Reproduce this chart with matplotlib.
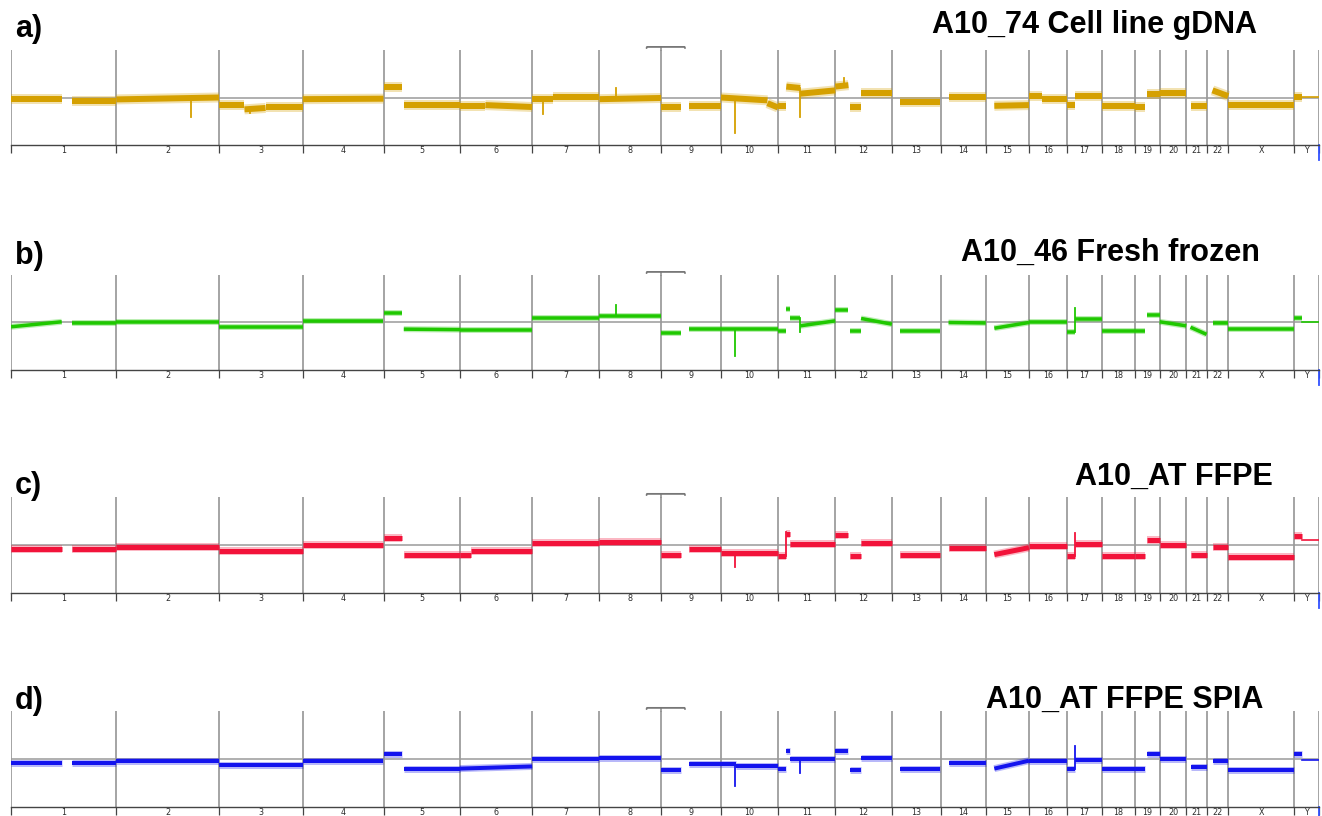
import numpy as np
import matplotlib
matplotlib.use('Agg')
import matplotlib.pyplot as plt

W, H = 1322, 816

# chromosome sizes (Mb, hg19)
chrom_names = ['1', '2', '3', '4', '5', '6', '7', '8', '9', '10', '11', '12',
               '13', '14', '15', '16', '17', '18', '19', '20', '21', '22', 'X', 'Y']
chrom_len = [249.3, 243.2, 198.0, 191.2, 180.9, 171.1, 159.1, 146.4, 141.2, 135.5,
             135.0, 133.9, 115.2, 107.3, 102.5, 90.4, 81.2, 78.1, 59.1, 63.0,
             48.1, 51.3, 155.3, 59.4]

# segments: chrom, start Mb, end Mb, log2 ratio at start, at end
seg_a = [
    ('1', 0, 120, -0.035, -0.035), ('1', 144, 249, -0.07, -0.07),
    ('2', 0, 243, -0.04, 0.0),
    ('3', 0, 60, -0.16, -0.16), ('3', 60, 110, -0.25, -0.22), ('3', 110, 198, -0.19, -0.19),
    ('4', 0, 191, -0.035, -0.025),
    ('5', 0, 44, 0.22, 0.22), ('5', 48, 181, -0.16, -0.16),
    ('6', 0, 60, -0.175, -0.175), ('6', 60, 171, -0.16, -0.2),
    ('7', 0, 50, -0.035, -0.035), ('7', 50, 159, 0.01, 0.01),
    ('8', 0, 146, -0.035, -0.01),
    ('9', 0, 47, -0.19, -0.19), ('9', 66, 141, -0.175, -0.175),
    ('10', 0, 110, 0.0, -0.06), ('10', 110, 135, -0.12, -0.21),
    ('11', 0, 19, -0.175, -0.175), ('11', 19, 52, 0.23, 0.2), ('11', 52, 135, 0.08, 0.15),
    ('12', 0, 31, 0.23, 0.26), ('12', 35, 61, -0.21, -0.21), ('12', 61, 134, 0.085, 0.085),
    ('13', 19, 115, -0.105, -0.105),
    ('14', 19, 107, 0.015, 0.015),
    ('15', 20, 102, -0.175, -0.16),
    ('16', 0, 30, 0.035, 0.035), ('16', 30, 90, -0.035, -0.035),
    ('17', 0, 17, -0.16, -0.16), ('17', 17, 81, 0.035, 0.035),
    ('18', 0, 78, -0.175, -0.175),
    ('19', 0, 25, -0.21, -0.21), ('19', 28, 59, 0.07, 0.07),
    ('20', 0, 63, 0.085, 0.085),
    ('21', 10, 48, -0.175, -0.175),
    ('22', 14, 51, 0.15, 0.03),
    ('X', 0, 155, -0.16, -0.16),
    ('Y', 0, 19, 0.015, 0.015),
]
spikes_a = [('2', 177, -0.40), ('3', 73, -0.32), ('7', 26, -0.35), ('8', 38, 0.2),
            ('10', 33, -0.75), ('11', 52, -0.40), ('12', 21, 0.42)]
flat_y_a = 0.015

seg_b = [
    ('1', 0, 120, -0.09, 0.015), ('1', 144, 249, -0.02, -0.02),
    ('2', 0, 243, 0.0, 0.0),
    ('3', 0, 198, -0.09, -0.09),
    ('4', 0, 191, 0.035, 0.035),
    ('5', 0, 44, 0.21, 0.21), ('5', 48, 181, -0.14, -0.15),
    ('6', 0, 171, -0.15, -0.15),
    ('7', 0, 159, 0.1, 0.1),
    ('8', 0, 146, 0.13, 0.13),
    ('9', 0, 47, -0.22, -0.22), ('9', 66, 141, -0.14, -0.14),
    ('10', 0, 135, -0.13, -0.13),
    ('11', 0, 19, -0.175, -0.175), ('11', 19, 28, 0.28, 0.28), ('11', 28, 52, 0.085, 0.085),
    ('11', 52, 135, -0.07, 0.035),
    ('12', 0, 31, 0.27, 0.27), ('12', 35, 61, -0.175, -0.175), ('12', 61, 134, 0.085, -0.035),
    ('13', 19, 115, -0.175, -0.175),
    ('14', 19, 107, 0.0, -0.01),
    ('15', 20, 102, -0.12, 0.0),
    ('16', 0, 90, 0.015, 0.015),
    ('17', 0, 17, -0.21, -0.21), ('17', 17, 81, 0.07, 0.07),
    ('18', 0, 78, -0.175, -0.175),
    ('19', 0, 25, -0.175, -0.175), ('19', 28, 59, 0.155, 0.155),
    ('20', 0, 63, 0.015, -0.07),
    ('21', 10, 48, -0.1, -0.25),
    ('22', 14, 51, -0.02, -0.02),
    ('X', 0, 155, -0.14, -0.14),
    ('Y', 0, 19, 0.105, 0.105),
]
spikes_b = [('8', 38, 0.37), ('10', 33, -0.70), ('11', 52, -0.2), ('17', 17, 0.3)]
flat_y_b = 0.015

seg_c = [
    ('1', 0, 120, -0.09, -0.09), ('1', 144, 249, -0.08, -0.08),
    ('2', 0, 243, -0.035, -0.035),
    ('3', 0, 198, -0.125, -0.125),
    ('4', 0, 191, -0.007, -0.007),
    ('5', 0, 44, 0.155, 0.155), ('5', 48, 181, -0.21, -0.21),
    ('6', 0, 25, -0.2, -0.2), ('6', 25, 171, -0.125, -0.125),
    ('7', 0, 159, 0.05, 0.05),
    ('8', 0, 146, 0.065, 0.065),
    ('9', 0, 47, -0.21, -0.21), ('9', 66, 141, -0.09, -0.09),
    ('10', 0, 135, -0.16, -0.16),
    ('11', 0, 19, -0.23, -0.23), ('11', 19, 28, 0.22, 0.22), ('11', 28, 135, 0.015, 0.015),
    ('12', 0, 31, 0.2, 0.2), ('12', 35, 61, -0.23, -0.23), ('12', 61, 134, 0.05, 0.05),
    ('13', 19, 115, -0.21, -0.21),
    ('14', 19, 107, -0.055, -0.055),
    ('15', 20, 102, -0.2, -0.055),
    ('16', 0, 90, -0.02, -0.02),
    ('17', 0, 17, -0.23, -0.23), ('17', 17, 81, 0.015, 0.015),
    ('18', 0, 78, -0.23, -0.23),
    ('19', 0, 25, -0.23, -0.23), ('19', 28, 59, 0.105, 0.105),
    ('20', 0, 63, -0.007, -0.007),
    ('21', 10, 48, -0.21, -0.21),
    ('22', 14, 51, -0.04, -0.04),
    ('X', 0, 155, -0.245, -0.245),
    ('Y', 0, 19, 0.19, 0.19),
]
spikes_c = [('10', 33, -0.45), ('11', 19, 0.28), ('17', 17, 0.25)]
flat_y_c = 0.105

seg_d = [
    ('1', 0, 120, -0.085, -0.085), ('1', 144, 249, -0.085, -0.085),
    ('2', 0, 243, -0.035, -0.035),
    ('3', 0, 198, -0.125, -0.125),
    ('4', 0, 191, -0.035, -0.035),
    ('5', 0, 44, 0.105, 0.105), ('5', 48, 181, -0.2, -0.2),
    ('6', 0, 171, -0.2, -0.155),
    ('7', 0, 159, 0.0, 0.0),
    ('8', 0, 146, 0.02, 0.02),
    ('9', 0, 47, -0.225, -0.225), ('9', 66, 141, -0.105, -0.105),
    ('10', 0, 35, -0.1, -0.1), ('10', 35, 135, -0.155, -0.155),
    ('11', 0, 19, -0.21, -0.21), ('11', 19, 28, 0.175, 0.175), ('11', 28, 135, 0.0, 0.0),
    ('12', 0, 31, 0.175, 0.175), ('12', 35, 61, -0.225, -0.225), ('12', 61, 134, 0.015, 0.015),
    ('13', 19, 115, -0.21, -0.21),
    ('14', 19, 107, -0.09, -0.09),
    ('15', 20, 102, -0.2, -0.035),
    ('16', 0, 90, -0.035, -0.035),
    ('17', 0, 17, -0.21, -0.21), ('17', 17, 81, -0.02, -0.02),
    ('18', 0, 78, -0.21, -0.21),
    ('19', 0, 25, -0.21, -0.21), ('19', 28, 59, 0.105, 0.105),
    ('20', 0, 63, 0.0, 0.0),
    ('21', 10, 48, -0.175, -0.175),
    ('22', 14, 51, -0.035, -0.035),
    ('X', 0, 155, -0.225, -0.225),
    ('Y', 0, 19, 0.105, 0.105),
]
spikes_d = [('10', 33, -0.56), ('11', 52, -0.3), ('17', 17, 0.28)]
flat_y_d = -0.02

starts = np.concatenate([[0], np.cumsum(chrom_len)[:-1]])
total = float(np.sum(chrom_len))
bounds = np.append(starts, total)
centers = starts + np.array(chrom_len) / 2
idx = {c: i for i, c in enumerate(chrom_names)}


def gpos(ch, p):
    return starts[idx[ch]] + p


def level_at(segs, ch, p):
    for c, s, e, y0, y1 in segs:
        if c == ch and s <= p <= e:
            return y0 + (y1 - y0) * (p - s) / (e - s)
    return 0.0


fig = plt.figure(figsize=(W / 100, H / 100), dpi=100)

panels = [
    # label, title, colour, segments, spikes, flat Y level, core px, fringe px,
    # grid top px, axis px, label y, title right x, title y
    ('a)', 'A10_74 Cell line gDNA', '#D5A000', seg_a, spikes_a, flat_y_a, 6, 10, 50, 145, 29, 1257, 25),
    ('b)', 'A10_46 Fresh frozen', '#1FC800', seg_b, spikes_b, flat_y_b, 3.5, 6, 275, 370, 256, 1260, 253),
    ('c)', 'A10_AT FFPE', '#F2133A', seg_c, spikes_c, flat_y_c, 5, 8, 497, 593, 486, 1273, 477),
    ('d)', 'A10_AT FFPE SPIA', '#1414EE', seg_d, spikes_d, flat_y_d, 4, 7, 711, 807, 701, 1263, 700),
]

for lab, title, col, segs, spikes, flat_y, core, fringe, top, bot, ly, tx, ty in panels:
    ax = fig.add_axes([11 / W, 1 - bot / H, 1308 / W, (bot - top) / H])
    ax.set_xlim(0, total)
    ax.set_ylim(-1, 1)
    for s in ['top', 'left', 'right']:
        ax.spines[s].set_visible(False)
    ax.spines['bottom'].set_color('#444444')
    ax.spines['bottom'].set_linewidth(1.0)
    ax.set_yticks([])

    ax.vlines(bounds, -1, 1, color='#8c8c8c', lw=1.1, zorder=1)
    ax.axhline(0, color='#9a9a9a', lw=1.1, zorder=1)

    # marker above the chr8/chr9 border
    x9 = starts[idx['9']]
    ax.plot([x9, x9], [1, 1.065], color='#8c8c8c', lw=1.1, clip_on=False)
    ax.plot([x9 - 35, x9 - 34, x9 + 55, x9 + 56], [1.04, 1.065, 1.065, 1.04],
            color='#777777', lw=1.3, clip_on=False, solid_capstyle='round')

    for c, s, e, y0, y1 in segs:
        xs = [gpos(c, s), gpos(c, e)]
        ax.plot(xs, [y0, y1], color=col, lw=fringe * 0.72, alpha=0.3,
                solid_capstyle='butt', zorder=3)
        ax.plot(xs, [y0, y1], color=col, lw=core * 0.72,
                solid_capstyle='butt', zorder=4)
    # Y chromosome tail without probes
    ax.plot([gpos('Y', 19), total], [flat_y, flat_y], color=col, lw=1.2, zorder=4)

    for c, p, tip in spikes:
        base = level_at(segs, c, p)
        ax.plot([gpos(c, p)] * 2, [base, tip], color=col, lw=1.3, zorder=4)

    ax.set_xticks(bounds)
    ax.set_xticklabels([])
    ax.tick_params(axis='x', which='major', direction='out', length=5.5,
                   width=0.9, color='#444444')
    ax.set_xticks(centers, minor=True)
    ax.set_xticklabels(chrom_names, minor=True)
    ax.tick_params(axis='x', which='minor', length=0, pad=0.5,
                   labelsize=5.8, labelcolor='#2a2a2a')

    # blue end marker under the last border
    ax.plot([total, total], [-1, -1.32], color='#3050ff', lw=1.3, clip_on=False)

    fig.text(15 / W, 1 - ly / H, lab, fontsize=22, fontweight='bold',
             family='Liberation Sans', va='center', ha='left')
    fig.text(tx / W, 1 - ty / H, title, fontsize=22, fontweight='bold',
             family='Liberation Sans', va='center', ha='right')

fig.savefig('out.png', dpi=100)
